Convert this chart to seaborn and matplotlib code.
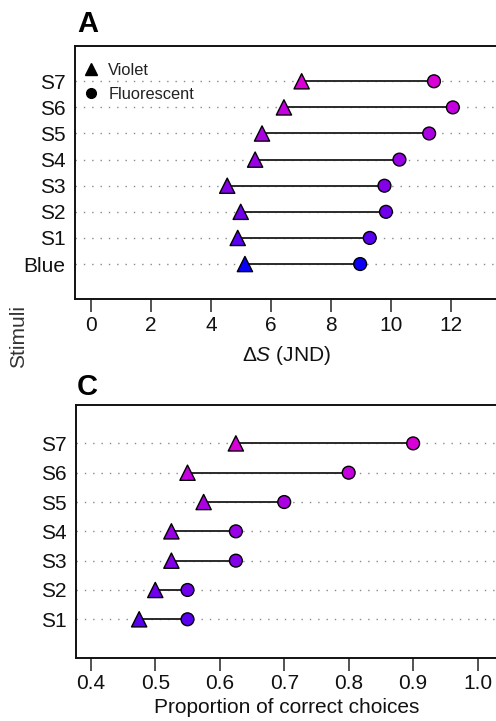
import numpy as np
import pandas as pd
import seaborn as sns
import matplotlib
matplotlib.use("Agg")
import matplotlib.pyplot as plt
from matplotlib.lines import Line2D

# Panel A: chromatic contrast (JND) of each stimulus
stim_a = ["Blue", "S1", "S2", "S3", "S4", "S5", "S6", "S7"]
violet_a = [5.13, 4.89, 4.99, 4.54, 5.47, 5.70, 6.43, 7.02]
fluor_a = [8.97, 9.29, 9.83, 9.78, 10.28, 11.27, 12.06, 11.43]

# Panel C: proportion of correct choices
stim_c = ["S1", "S2", "S3", "S4", "S5", "S6", "S7"]
violet_c = [0.475, 0.50, 0.525, 0.525, 0.575, 0.55, 0.625]
fluor_c = [0.55, 0.55, 0.625, 0.625, 0.70, 0.80, 0.90]

colors = {
    "Blue": "#0a00f8",
    "S1": "#5a00f0",
    "S2": "#7000ec",
    "S3": "#8400e6",
    "S4": "#9800e6",
    "S5": "#aa00e2",
    "S6": "#c400e0",
    "S7": "#d800d6",
}

FS = 15

sns.set_theme(style="white")
plt.rcParams["font.family"] = ["Liberation Sans", "DejaVu Sans"]
plt.rcParams["mathtext.fontset"] = "custom"
plt.rcParams["mathtext.it"] = "Liberation Sans:italic"
plt.rcParams["mathtext.rm"] = "Liberation Sans"

W, H = 496, 721
fig = plt.figure(figsize=(W / 100, H / 100), dpi=100)
ax_a = fig.add_axes([0.1518, 0.5849, 0.852, 0.3509])
ax_c = fig.add_axes([0.1532, 0.0878, 0.850, 0.3505])


def dumbbell(ax, stims, violet, fluor, xlim, ylim, xticks, xticklabels):
    ys = np.arange(1, len(stims) + 1)
    df = pd.DataFrame({
        "Stimulus": stims * 2,
        "y": list(ys) * 2,
        "value": list(violet) + list(fluor),
        "Type": ["Violet"] * len(stims) + ["Fluorescent"] * len(stims),
    })
    ax.set_xlim(*xlim)
    ax.set_ylim(*ylim)
    # dotted guide lines, one per stimulus
    ax.hlines(ys, xlim[0], xlim[1], colors="#8a8a8a",
              linestyles=(0, (1, 5)), linewidth=1.0, zorder=1)
    # segment between the two measurements
    ax.hlines(ys, violet, fluor, colors="#2a2a2a", linewidth=1.4, zorder=2)
    for kind, marker, size in (("Violet", "^", 120), ("Fluorescent", "o", 85)):
        sub = df[df["Type"] == kind]
        sns.scatterplot(data=sub, x="value", y="y", hue="Stimulus",
                        palette=colors, marker=marker, s=size,
                        edgecolor="black", linewidth=1.0, legend=False,
                        ax=ax, zorder=3)
    ax.set_yticks(ys)
    ax.set_yticklabels(stims)
    ax.set_xticks(xticks)
    ax.set_xticklabels(xticklabels)
    ax.set_ylabel("")
    ax.tick_params(axis="y", length=0, pad=7, labelsize=FS, labelcolor="#111111")
    ax.tick_params(axis="x", length=9, width=1.3, color="#444444", pad=3,
                   labelsize=FS, labelcolor="#111111", direction="out",
                   bottom=True)
    for side in ("left", "bottom", "top", "right"):
        ax.spines[side].set_color("#111111")
        ax.spines[side].set_linewidth(1.4)


dumbbell(ax_a, stim_a, violet_a, fluor_a, (-0.523, 13.56), (-0.35, 9.34),
         [0, 2, 4, 6, 8, 10, 12], ["0", "2", "4", "6", "8", "10", "12"])
ax_a.set_xlabel(r"$\Delta\mathit{S}$ (JND)", fontsize=FS, labelpad=6.5,
                color="#111111")

dumbbell(ax_c, stim_c, violet_c, fluor_c, (0.377, 1.031), (-0.31, 8.31),
         [0.4, 0.5, 0.6, 0.7, 0.8, 0.9, 1.0],
         ["0.4", "0.5", "0.6", "0.7", "0.8", "0.9", "1.0"])
ax_c.set_xlabel("Proportion of correct choices", fontsize=FS, labelpad=3,
                color="#111111")

handles = [
    Line2D([], [], linestyle="none", marker="^", markersize=8,
           markerfacecolor="black", markeredgecolor="black", label="Violet"),
    Line2D([], [], linestyle="none", marker="o", markersize=7,
           markerfacecolor="black", markeredgecolor="black", label="Fluorescent"),
]
ax_a.legend(handles=handles, loc="upper left", frameon=False, fontsize=11.8,
            handlelength=1.0, handletextpad=0.55, labelspacing=0.55,
            borderaxespad=0, borderpad=0, labelcolor="#222222",
            bbox_to_anchor=(83 / W, 1 - 63 / H),
            bbox_transform=fig.transFigure)

fig.text(0.155, 1 - 24 / H, "A", fontsize=21, fontweight="bold",
         va="center", ha="left", color="black")
fig.text(0.155, 1 - 387 / H, "C", fontsize=21, fontweight="bold",
         va="center", ha="left", color="black")
fig.text(0.037, 1 - 337 / H, "Stimuli", rotation=90, fontsize=FS,
         va="center", ha="center", color="#333333")

fig.savefig("out.png", dpi=100)
